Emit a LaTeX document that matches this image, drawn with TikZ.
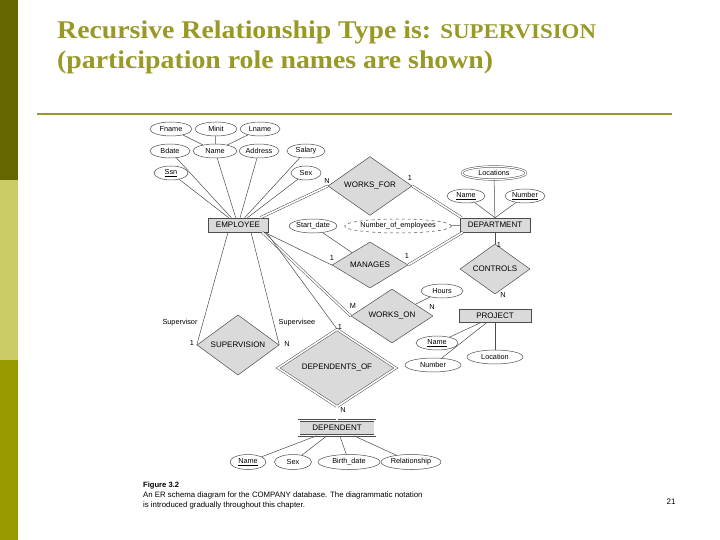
\documentclass[tikz,border=0pt]{standalone}
\usepackage{fontspec}
\setmainfont{Liberation Serif}
\newfontfamily\erfont{Liberation Sans}
\usetikzlibrary{shapes.geometric}
\definecolor{barone}{RGB}{102,102,0}
\definecolor{bartwo}{RGB}{204,204,102}
\definecolor{barthree}{RGB}{153,153,0}
\definecolor{titlecol}{RGB}{153,153,40}
\definecolor{erfill}{RGB}{218,218,218}

\begin{document}
\begin{tikzpicture}[x=1pt,y=-1pt,
    conn/.style={draw=black!70,line width=0.5pt},
    total/.style={conn,double,double distance=1.6pt},
    ent/.style={draw=black!70,fill=erfill,line width=0.5pt,minimum width=#1,minimum height=14pt,inner sep=0pt,font=\erfont\fontsize{8}{9}\selectfont},
    attr/.style={draw=black!70,ellipse,line width=0.5pt,minimum width=#1,minimum height=14pt,inner sep=0pt,font=\erfont\fontsize{7.3}{8}\selectfont},
    rel/.style={draw=black!70,fill=erfill,diamond,line width=0.5pt,inner sep=0pt,font=\erfont\fontsize{8}{9}\selectfont},
    card/.style={inner sep=0pt,font=\erfont\fontsize{7.3}{8}\selectfont},
    titletext/.style={anchor=base west,inner sep=0pt,text=titlecol,font=\bfseries\fontsize{25.5}{30}\selectfont},
    captext/.style={anchor=base west,inner sep=0pt,font=\erfont\fontsize{7.8}{9}\selectfont}]
    \useasboundingbox (0,0) rectangle (720,540);
    \fill[white] (0,0) rectangle (720,540);
    \fill[barone] (0,0) rectangle (18,180);
    \fill[bartwo] (0,180) rectangle (18,360);
    \fill[barthree] (0,360) rectangle (18,540);
    \node[titletext] (title1) at (57,39)
        {\scalebox{1.09}[1]{Recursive Relationship Type is: {\fontsize{21}{24}\selectfont SUPERVISION}}};
    \node[titletext] (title2) at (57,69) {\scalebox{1.09}[1]{(participation role names are shown)}};
    \draw[titlecol,line width=2pt] (37,114) -- (672,114);

    % EMPLOYEE
    \node[attr=42] (fname) at (171,129) {Fname};
    \node[attr=42] (minit) at (216,129) {Minit};
    \node[attr=40] (lname) at (260,129) {Lname};
    \node[attr=40] (bdate) at (170,151) {Bdate};
    \node[attr=44] (ename) at (215,151) {Name};
    \node[attr=40] (address) at (259,151) {Address};
    \node[attr=38] (salary) at (306,151) {Salary};
    \node[attr=34] (ssn) at (171,173) {\underline{Ssn}};
    \node[attr=30] (sex) at (306,173) {Sex};
    \node[ent=60pt] (employee) at (238,225) {EMPLOYEE};
    \foreach \a in {fname,minit,lname} {
        \draw[conn] (\a) -- (ename);
        }
    \foreach \a in {bdate,ename,address,salary,ssn,sex} {
        \draw[conn] (\a) -- (employee);
        }

    % DEPARTMENT
    \node[attr=64,double,double distance=1.2pt,minimum height=13pt] (locations) at (494,173) {Locations};
    \node[attr=38] (dname) at (466,196) {\underline{Name}};
    \node[attr=40] (dnumber) at (525,196) {\underline{Number}};
    \node[ent=70pt] (department) at (495,225) {DEPARTMENT};
    \node[attr=96,dashed] (numemp) at (398,226) {Number\_of\_employees};
    \node[attr=44] (startdate) at (313,226) {Start\_date};
    \draw[conn] (locations) -- (department);
    \draw[conn] (dname) -- (department.north);
    \draw[conn] (dnumber) -- (department.north);
    \draw[conn] (numemp) -- (department);

    % relationships
    \node[rel,minimum width=84pt,minimum height=48pt] (worksfor) at (370,186) {WORKS\_FOR};
    \node[rel,minimum width=76pt,minimum height=46pt] (manages) at (370,265) {MANAGES};
    \node[rel,minimum width=70pt,minimum height=42pt] (controls) at (495,269) {CONTROLS};
    \node[rel,minimum width=82pt,minimum height=48pt] (workson) at (392,316) {WORKS\_ON};
    \node[rel,minimum width=82pt,minimum height=50pt] (supervision) at (238,345) {SUPERVISION};
    \node[rel,double,double distance=1.6pt,minimum width=118pt,minimum height=68pt] (dependentsof) at (337,368) {DEPENDENTS\_OF};

    \draw[total] ([xshift=-8pt]employee.north east) -- (worksfor.west);
    \draw[total] (worksfor.east) -- ([xshift=2pt]department.north west);
    \draw[conn] ([xshift=-4pt]employee.south east) -- (manages.west);
    \draw[total] (manages.east) -- ([xshift=3pt]department.south west);
    \draw[conn] (startdate) -- (manages);
    \draw[conn] (department) -- (controls.north);

    % PROJECT
    \node[ent=72pt,minimum height=13pt] (project) at (495,316) {PROJECT};
    \node[attr=42] (hours) at (442,291) {Hours};
    \node[attr=42] (pname) at (437,343) {\underline{Name}};
    \node[attr=56] (pnumber) at (433,365) {Number};
    \node[attr=56] (plocation) at (495,357) {Location};
    \draw[total] (controls.south) -- (project.north);
    \draw[total] ([xshift=-6pt]employee.south east) -- (workson.west);
    \draw[total] (workson.east) -- (project.west);
    \draw[conn] (hours) -- (workson);
    \foreach \a in {pname,pnumber,plocation} {
        \draw[conn] (\a) -- (project);
        }

    % SUPERVISION and DEPENDENT
    \draw[conn] ([xshift=-10pt]employee.south) -- (supervision.west);
    \draw[conn] ([xshift=13pt]employee.south) -- (supervision.east);
    \draw[conn] ([xshift=-2pt]employee.south east) -- (dependentsof.north);
    \node[ent=76pt,minimum height=15pt,double,double distance=1.6pt] (dependent) at (337,428) {DEPENDENT};
    \draw[total] (dependentsof.south) -- (dependent.north);
    \node[attr=36,minimum height=15pt] (depname) at (248,462) {\underline{Name}};
    \node[attr=37,minimum height=15pt] (depsex) at (293,462) {Sex};
    \node[attr=62,minimum height=15pt] (birthdate) at (349,462) {Birth\_date};
    \node[attr=60,minimum height=15pt] (relationship) at (411,462) {Relationship};
    \foreach \a in {depname,depsex,birthdate,relationship} {
        \draw[conn] (\a) -- (dependent);
        }

    % cardinalities and roles
    \node[card] (c1) at (327,181) {N};
    \node[card] (c2) at (410,178) {1};
    \node[card] (c3) at (332,258) {1};
    \node[card] (c4) at (407,256) {1};
    \node[card] (c5) at (499,245) {1};
    \node[card] (c6) at (503,295) {N};
    \node[card] (c7) at (353,306) {M};
    \node[card] (c8) at (432,307) {N};
    \node[card] (c9) at (340,327) {1};
    \node[card] (c10) at (343,410) {N};
    \node[card] (c11) at (192,343) {1};
    \node[card] (c12) at (287,344) {N};
    \node[card] (supervisor) at (180,323) {Supervisor};
    \node[card] (supervisee) at (297,323) {Supervisee};

    % caption
    \node[captext,font=\erfont\bfseries\fontsize{7.6}{9}\selectfont] (fig) at (143,487) {Figure 3.2};
    \node[captext] (cap1) at (143,497) {An ER schema diagram for the COMPANY database. The diagrammatic notation};
    \node[captext] (cap2) at (143,507) {is introduced gradually throughout this chapter.};
    \node[inner sep=0pt,font=\erfont\fontsize{8}{9}\selectfont] (pagenum) at (671,502) {21};
\end{tikzpicture}
\end{document}
